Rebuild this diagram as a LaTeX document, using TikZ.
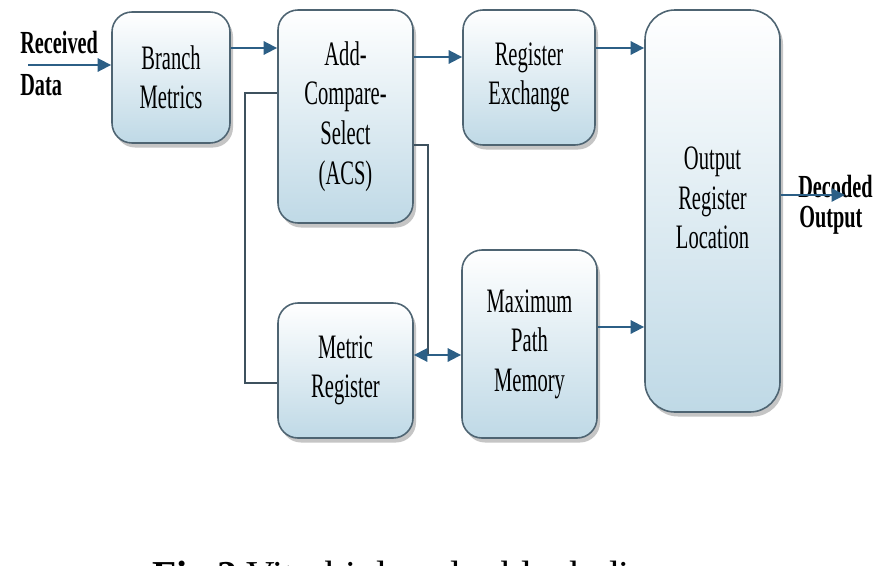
\documentclass[tikz,border=0pt]{standalone}
\usepackage{fontspec}
\setmainfont{Liberation Serif}
\newfontfamily\narrowfont[FakeStretch=0.6]{Liberation Serif}
\newfontfamily\tagfont[FakeStretch=0.63]{Liberation Serif}
\usetikzlibrary{calc, arrows.meta, shadows}
\definecolor{boxline}{HTML}{4E6472}
\definecolor{boxfill}{HTML}{BFD9E6}
\definecolor{flowblue}{HTML}{2C5F86}
\definecolor{wiregray}{HTML}{3E515E}

\begin{document}
\begin{tikzpicture}[x=0.2mm, y=-0.2mm,
    block/.style={draw=boxline, line width=0.9pt, rounded corners=4mm, top color=white, bottom color=boxfill,
        align=center, inner sep=0pt, font=\narrowfont\fontsize{19.5}{22.5}\selectfont,
        drop shadow={shadow xshift=0.6mm, shadow yshift=-0.9mm, fill=black!45, opacity=0.5}},
    flow/.style={draw=flowblue, line width=1.6pt, -{Triangle[length=2.7mm, width=2.6mm]}},
    wire/.style={draw=wiregray, line width=0.9pt},
    tag/.style={font=\tagfont\bfseries\fontsize{18.3}{21}\selectfont, anchor=base west, inner sep=0pt}]
    \useasboundingbox (0,0) rectangle (895,565);
    \fill[white] (0,0) rectangle (895,565);

    % blocks
    \node[block, minimum width=23.6mm, minimum height=26.2mm] (bm) at (171,77.5) {Branch\\Metrics};
    \node[block, minimum width=27mm, minimum height=42.6mm] (acs) at (345.5,116.5) {Add-\\Compare-\\Select\\(ACS)};
    \node[block, minimum width=26.4mm, minimum height=27mm] (rx) at (529,77.5) {Register\\Exchange};
    \node[block, minimum width=27mm, minimum height=80.4mm, rounded corners=6mm] (out) at (712.5,211) {};
    \node[align=center, font=\narrowfont\fontsize{19.5}{22.5}\selectfont] (outtxt) at ($(out)+(0,-13)$) {Output\\Register\\Location};
    \node[block, minimum width=27mm, minimum height=27mm] (mr) at (345.5,370.5) {Metric\\Register};
    \node[block, minimum width=27mm, minimum height=37.6mm] (mpm) at (529.5,344) {Maximum\\Path\\Memory};

    % input and output labels
    \node[tag] (rcv) at (20,53) {Received};
    \node[tag] (dat) at (20,95) {Data};
    \node[tag] (dcd) at (798,197) {Decoded};
    \node[tag] (dop) at (799,227) {Output};

    % levels of the connectors
    \coordinate (rin) at (28,65);
    \coordinate (y1) at (0,48);
    \coordinate (y2) at (0,57);
    \coordinate (y3) at (0,327);
    \coordinate (dec) at (845,195);
    \coordinate (fbA) at (245,93);
    \coordinate (fbB) at (245,383);
    \coordinate (sw) at (428,145);
    \coordinate (sj) at (428,355);

    \draw[flow] (rin) -- (rin -| bm.west);
    \draw[flow] (bm.east |- y1) -- (acs.west |- y1);
    \draw[flow] (acs.east |- y2) -- (rx.west |- y2);
    \draw[flow] (rx.east |- y1) -- (out.west |- y1);
    \draw[flow] (mpm.east |- y3) -- (out.west |- y3);
    \draw[flow] (out.east |- dec) -- (dec);

    % feedback through the metric register
    \draw[wire] (acs.west |- fbA) -- (fbA) -- (fbB) -- (fbB -| mr.west);
    \draw[wire] (acs.east |- sw) -- (sw) -- (sj);
    \draw[flow] (sj) -- (sj -| mr.east);
    \draw[flow] (sj) -- (sj -| mpm.west);

    \node[anchor=base west, inner sep=0pt, font=\fontsize{22.5}{27}\selectfont] (cap) at (152,588) {\textbf{Fig.2} Viterbi decoder block diagram};
\end{tikzpicture}
\end{document}
